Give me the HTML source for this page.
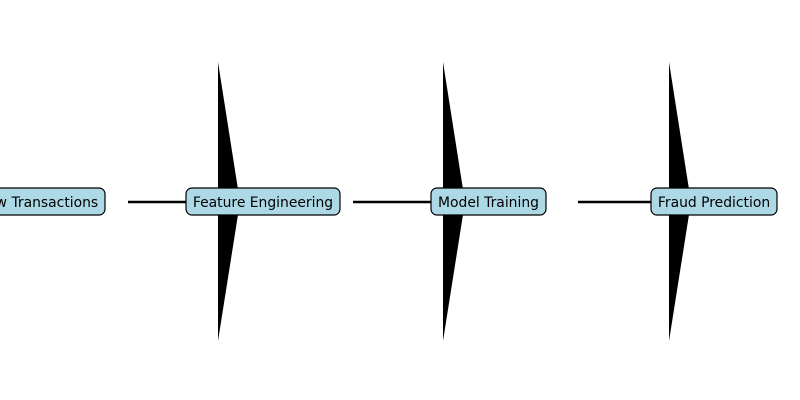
<!DOCTYPE html>
<html><head><style>body{margin:0;background:#fff}</style></head><body>
<svg width="800" height="400" xmlns="http://www.w3.org/2000/svg" style="display:block">
<g fill="#000">
<polygon points="218,62 240,202 218,341"/>
<polygon points="443,62 465,202 443,341"/>
<polygon points="669,62 691,202 669,341"/>
</g>
<g stroke="#000" stroke-width="2.5">
<line x1="128" y1="202" x2="190" y2="202"/>
<line x1="353" y1="202" x2="435" y2="202"/>
<line x1="578" y1="202" x2="655" y2="202"/>
</g>
<g fill="#add8e6" stroke="#000" stroke-width="1.2">
<rect x="-30" y="188" width="135" height="27" rx="6"/>
<rect x="186" y="188" width="154" height="27" rx="6"/>
<rect x="431" y="188" width="115" height="27" rx="6"/>
<rect x="651" y="188" width="126" height="27" rx="6"/>
</g>
<g font-family="DejaVu Sans, Liberation Sans, sans-serif" font-size="13.9" text-anchor="middle" fill="#000">
<text x="38" y="206.8">Raw Transactions</text>
<text x="263" y="206.8">Feature Engineering</text>
<text x="488.5" y="206.8">Model Training</text>
<text x="714" y="206.8">Fraud Prediction</text>
</g>
</svg>
</body></html>
